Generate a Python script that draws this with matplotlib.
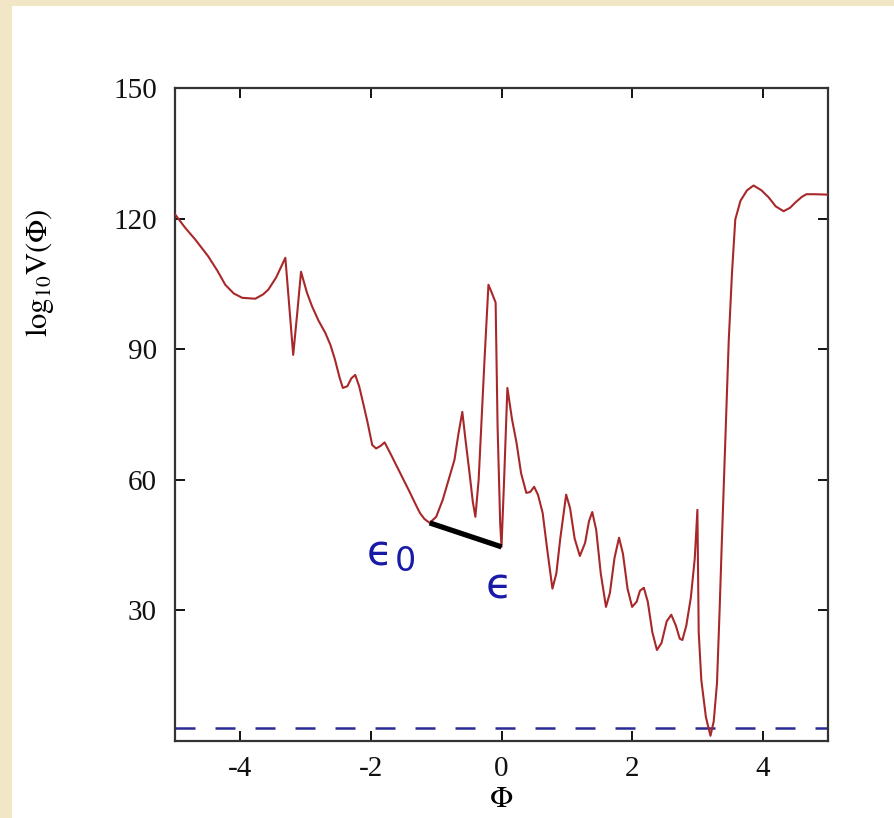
import matplotlib
matplotlib.use('Agg')
import matplotlib.pyplot as plt
from matplotlib.patches import Rectangle

plt.rcParams['font.family'] = ['Liberation Serif', 'DejaVu Serif']
plt.rcParams['mathtext.fontset'] = 'stix'

# potential curve, log10 V(phi)
phi = [-5.00, -4.85, -4.69, -4.49, -4.35, -4.23, -4.10, -3.97, -3.77, -3.65,
       -3.57, -3.45, -3.31, -3.25, -3.19, -3.13, -3.07, -2.98, -2.90, -2.80,
       -2.70, -2.62, -2.55, -2.48, -2.43, -2.36, -2.30, -2.24, -2.18, -2.12,
       -2.05, -1.98, -1.92, -1.85, -1.79, -1.70, -1.60, -1.50, -1.40, -1.32,
       -1.25, -1.18, -1.10, -1.00, -0.90, -0.80, -0.72, -0.66, -0.60, -0.55,
       -0.49, -0.44, -0.40, -0.35, -0.31, -0.26, -0.20, -0.15, -0.09, -0.06,
       -0.02, 0.00, 0.04, 0.09, 0.16, 0.23, 0.30, 0.38, 0.44, 0.50,
       0.56, 0.63, 0.70, 0.78, 0.84, 0.90, 0.99, 1.05, 1.12, 1.20,
       1.28, 1.34, 1.39, 1.45, 1.52, 1.60, 1.66, 1.73, 1.80, 1.86,
       1.93, 2.00, 2.07, 2.12, 2.18, 2.24, 2.31, 2.38, 2.45, 2.53,
       2.60, 2.67, 2.73, 2.77, 2.83, 2.90, 2.96, 3.00, 3.02, 3.06,
       3.13, 3.20, 3.25, 3.30, 3.34, 3.37, 3.43, 3.48, 3.53, 3.58,
       3.66, 3.76, 3.86, 3.98, 4.09, 4.20, 4.32, 4.42, 4.50, 4.60,
       4.67, 4.80, 5.00]
logV = [121.0, 118.0, 115.2, 111.3, 108.0, 104.8, 102.8, 101.8, 101.6, 102.6,
        103.7, 106.5, 111.0, 100.0, 88.7, 98.0, 107.8, 103.0, 99.8, 96.5,
        93.8, 91.0, 87.6, 83.5, 81.1, 81.5, 83.3, 84.1, 81.5, 77.7,
        73.1, 68.0, 67.2, 67.8, 68.6, 66.0, 63.0, 60.0, 57.0, 54.5,
        52.4, 51.0, 50.1, 51.5, 55.4, 60.5, 64.6, 70.5, 75.6, 69.0,
        61.6, 55.0, 51.5, 60.0, 72.2, 87.6, 104.8, 103.0, 100.7, 72.2,
        50.0, 44.6, 60.0, 81.1, 74.0, 68.5, 61.5, 57.0, 57.2, 58.4,
        56.5, 52.4, 44.0, 35.0, 38.5, 46.5, 56.6, 53.5, 46.5, 42.5,
        45.5, 50.5, 52.6, 48.5, 38.5, 30.8, 34.0, 42.0, 46.7, 43.0,
        35.0, 30.8, 32.0, 34.5, 35.2, 32.0, 25.0, 20.9, 22.5, 27.5,
        29.0, 26.5, 23.5, 23.2, 26.5, 33.0, 42.0, 53.1, 25.0, 14.0,
        5.5, 1.2, 4.5, 13.3, 30.0, 43.9, 70.0, 92.0, 107.6, 119.8,
        124.1, 126.5, 127.6, 126.5, 124.9, 122.8, 121.7, 122.5, 123.7, 125.0,
        125.6, 125.6, 125.5]

# tunnelling segment from eps0 to eps
seg_phi = [-1.10, 0.00]
seg_logV = [50.1, 44.6]

vacuum_level = 3.0

xticks = [-4, -2, 0, 2, 4]
yticks = [30, 60, 90, 120, 150]

W, H = 894, 818
fig = plt.figure(figsize=(W / 100, H / 100), dpi=100)
fig.patch.set_facecolor('#f1e7c6')
fig.add_artist(Rectangle((12 / W, 0), 1, 1 - 6 / H, transform=fig.transFigure,
                         facecolor='white', edgecolor='none', zorder=-10))

ax = fig.add_axes([175 / W, (H - 741) / H, 653 / W, 653 / H])
ax.set_facecolor('white')

ax.plot(phi, logV, color='#a8282a', lw=1.5, zorder=3)
ax.axhline(vacuum_level, color='#2a2a96', lw=1.8, dashes=(8, 8), zorder=2)
ax.plot(seg_phi, seg_logV, color='black', lw=3.8, solid_capstyle='butt', zorder=4)

blue = '#1a1aa8'
ax.text(-1.86, 43.0, '\u03f5', color=blue, fontsize=30,
        family=['DejaVu Sans'], ha='center', va='center')
ax.text(-1.47, 41.2, '0', color=blue, fontsize=24,
        family=['DejaVu Sans'], ha='center', va='center')
ax.text(-0.046, 35.4, '\u03f5', color=blue, fontsize=31,
        family=['DejaVu Sans'], ha='center', va='center')

ax.set_xlim(-5, 5)
ax.set_ylim(0, 150)
ax.set_xticks(xticks)
ax.set_yticks(yticks)
ax.set_xticklabels(['-4', '-2', '0', '2', '4'])
ax.tick_params(direction='in', length=7, width=1.4, top=True, right=True,
               labelsize=21, colors='#111111')
ax.tick_params(axis='x', pad=11)
ax.tick_params(axis='y', pad=13)
for s in ax.spines.values():
    s.set_linewidth(1.6)
    s.set_color('#333333')

ax.set_xlabel(r'$\Phi$', fontsize=22, labelpad=2)
fig.text(40 / W, 1 - 273 / H, r'$\mathrm{log}_{10}\mathrm{V}(\Phi)$', rotation=90,
         fontsize=22, ha='center', va='center')

fig.savefig('out.png', dpi=100, facecolor=fig.get_facecolor())
